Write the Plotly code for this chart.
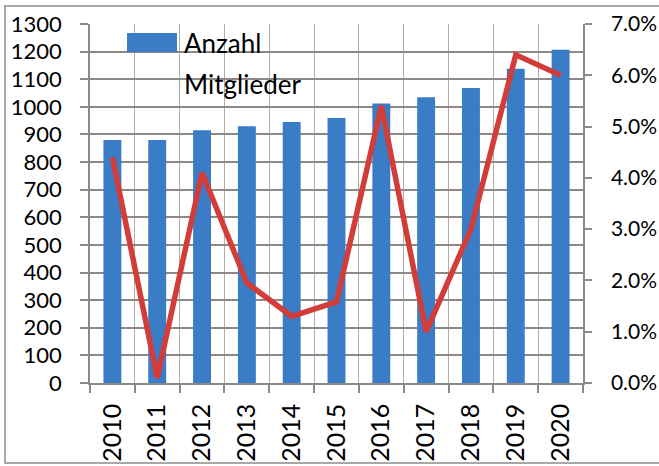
import plotly.graph_objects as go

years = ["2010", "2011", "2012", "2013", "2014", "2015", "2016", "2017", "2018", "2019", "2020"]
members = [880, 880, 915, 930, 945, 960, 1012, 1035, 1068, 1138, 1207]
growth = [0.044, 0.001, 0.041, 0.0195, 0.013, 0.0158, 0.054, 0.010, 0.030, 0.064, 0.060]
left_ticks = list(range(0, 1301, 100))
right_ticks = [0.00, 0.01, 0.02, 0.03, 0.04, 0.05, 0.06, 0.07]
legend_lines = ["Anzahl", "Mitglieder"]

W, H = 659, 466
L, R, T, B = 90, 76, 24, 83
pw, ph = W - L - R, H - T - B

def px(x):
    return (x - L) / pw

def py(y):
    return (H - B - y) / ph

FONT = "Lato"
BAR = "#3a7cc6"
LINE = "#d23d39"
GRID = "#8f8686"
AXIS = "#8a8a8a"

fig = go.Figure()
fig.add_trace(go.Bar(x=years, y=members, marker_color=BAR, marker_line_width=0,
                     name="Anzahl Mitglieder", yaxis="y"))
fig.add_trace(go.Scatter(x=years, y=growth, mode="lines", line=dict(color=LINE, width=5.5),
                         yaxis="y2", name="growth"))

fig.update_layout(
    width=W, height=H,
    margin=dict(l=L, r=R, t=T, b=B, autoexpand=False),
    paper_bgcolor="white", plot_bgcolor="white",
    showlegend=False,
    bargap=0.6,
    font=dict(family=FONT, color="black"),
    xaxis=dict(type="category", tickangle=-90, tickson="boundaries",
               showgrid=True, gridcolor="#b3abab", gridwidth=1.2,
               showline=True, linecolor=AXIS, linewidth=1.5,
               ticks="outside", ticklen=8, tickcolor=AXIS, tickwidth=1.5,
               tickfont=dict(size=25, family=FONT), ticklabelstandoff=9),
    yaxis=dict(range=[0, 1300], tickvals=left_ticks, showgrid=True, gridcolor=GRID,
               gridwidth=1.6, zeroline=False,
               showline=True, linecolor=AXIS, linewidth=1.5,
               ticks="outside", ticklen=8, tickcolor=AXIS, tickwidth=1.5,
               tickfont=dict(size=22, family=FONT), ticklabelstandoff=14),
    yaxis2=dict(range=[0, 0.07], tickvals=right_ticks, tickformat=".1%",
                overlaying="y", side="right", showgrid=False, zeroline=False,
                showline=True, linecolor=AXIS, linewidth=1.5,
                ticks="outside", ticklen=7, tickcolor=AXIS, tickwidth=1.5,
                tickfont=dict(size=21, family=FONT), ticklabelstandoff=15),
)

shapes = [
    # white legend box hiding gridlines
    dict(type="rect", xref="paper", yref="paper", x0=px(107), x1=px(317), y0=py(122), y1=py(20),
         fillcolor="white", line_width=0, layer="between"),
    # legend swatch
    dict(type="rect", xref="paper", yref="paper", x0=px(127), x1=px(177), y0=py(52), y1=py(33),
         fillcolor=BAR, line_width=0, layer="above"),
    # outer border
    dict(type="rect", xref="paper", yref="paper", x0=px(5), x1=px(664), y0=py(463), y1=py(6),
         fillcolor="rgba(0,0,0,0)", line=dict(color="#a8a8a8", width=2), layer="above"),
]
fig.update_layout(shapes=shapes)

fig.add_annotation(x=px(182), y=py(43), xref="paper", yref="paper", text=legend_lines[0],
                   showarrow=False, xanchor="left", yanchor="middle",
                   font=dict(size=26, family=FONT, color="black"))
fig.add_annotation(x=px(182), y=py(84), xref="paper", yref="paper", text=legend_lines[1],
                   showarrow=False, xanchor="left", yanchor="middle",
                   font=dict(size=26, family=FONT, color="black"))

fig.write_html("out.html", config={"displayModeBar": False},
               post_script="document.body.style.margin='0';document.body.style.overflow='hidden';")
